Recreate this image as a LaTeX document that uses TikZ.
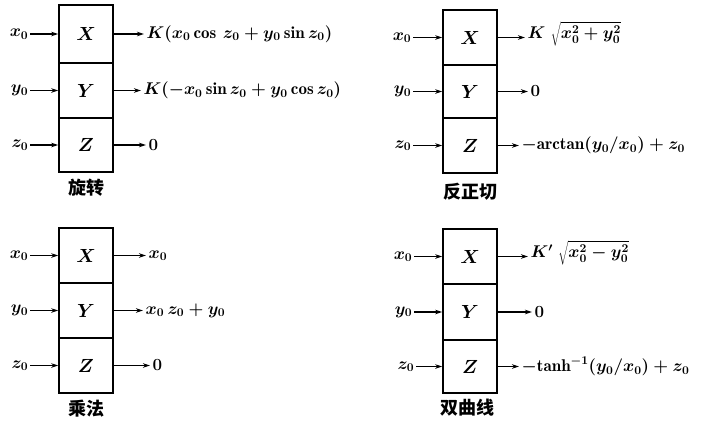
\RequirePackage{fix-cm}
\documentclass[tikz,border=0pt]{standalone}
\usepackage{fontspec}
\newfontfamily\cjk{Noto Sans CJK SC}
\usetikzlibrary{arrows.meta}
\begin{document}
\begin{tikzpicture}[x=1pt,y=-1pt,
  mfont/.style={font=\fontsize{17}{19}\selectfont\bfseries\boldmath},
  cell/.style={draw,line width=1.7pt,minimum width=54pt,inner sep=0pt,font=\fontsize{19}{21}\selectfont\bfseries\boldmath},
  inlab/.style={anchor=east,inner sep=1.5pt,mfont},
  outlab/.style={anchor=west,inner sep=2.5pt,mfont},
  captxt/.style={font=\fontsize{18}{20}\selectfont\cjk\bfseries},
  arr/.style={line width=1.3pt,-{Stealth[length=7pt,width=4.5pt]}}]
\useasboundingbox (0,0) rectangle (704,424);
% ---- top left: rotation
\node[cell,minimum height=58pt] (aX) at (86,34) {$X$};
\node[cell,minimum height=55pt] (aY) at (86,90.5) {$Y$};
\node[cell,minimum height=54pt] (aZ) at (86,145) {$Z$};
\node[inlab] (ax) at (30,34) {$x_0$};
\node[inlab] (ay) at (30,90.5) {$y_0$};
\node[inlab] (az) at (30,145) {$z_0$};
\draw[arr] (ax) -- (aX);
\draw[arr] (ay) -- (aY);
\draw[arr] (az) -- (aZ);
\node[outlab] (aox) at (144,34) {$K(x_0\cos\, z_0+y_0\sin z_0)$};
\node[outlab] (aoy) at (141,90.5) {$K(-x_0\sin z_0+y_0\cos z_0)$};
\node[outlab] (aoz) at (146,145) {$0$};
\draw[arr] (aX) -- (aox);
\draw[arr] (aY) -- (aoy);
\draw[arr] (aZ) -- (aoz);
\node[captxt] (acap) at (86,188) {旋转};
% ---- top right: arctan
\node[cell,minimum height=55pt] (bX) at (470,37.5) {$X$};
\node[cell,minimum height=53pt] (bY) at (470,91.5) {$Y$};
\node[cell,minimum height=55pt] (bZ) at (470,145.5) {$Z$};
\node[inlab] (bx) at (413,37.5) {$x_0$};
\node[inlab] (by) at (413,91.5) {$y_0$};
\node[inlab] (bz) at (413,145.5) {$z_0$};
\draw[arr] (bx) -- (bX);
\draw[arr] (by) -- (bY);
\draw[arr] (bz) -- (bZ);
\node[outlab] (box) at (525,34) {$K\;\sqrt{x_0^2+y_0^2}$};
\node[outlab] (boy) at (528,91.5) {$0$};
\node[outlab] (boz) at (519,145.5) {$-\mathrm{arctan}(y_0/x_0)+z_0$};
\draw[arr] (bX) -- (bX.east -| box.west);
\draw[arr] (bY) -- (boy);
\draw[arr] (bZ) -- (boz);
\node[captxt] (bcap) at (470,192) {反正切};
% ---- bottom left: multiplication
\node[cell,minimum height=55pt] (cX) at (86,255.5) {$X$};
\node[cell,minimum height=55pt] (cY) at (86,310.5) {$Y$};
\node[cell,minimum height=55pt] (cZ) at (86,365.5) {$Z$};
\node[inlab] (cx) at (30,255.5) {$x_0$};
\node[inlab] (cy) at (30,310.5) {$y_0$};
\node[inlab] (cz) at (30,365.5) {$z_0$};
\draw[arr] (cx) -- (cX);
\draw[arr] (cy) -- (cY);
\draw[arr] (cz) -- (cZ);
\node[outlab] (cox) at (146,255.5) {$x_0$};
\node[outlab] (coy) at (143,310.5) {$x_0\,z_0+y_0$};
\node[outlab] (coz) at (150,365.5) {$0$};
\draw[arr] (cX) -- (cox);
\draw[arr] (cY) -- (coy);
\draw[arr] (cZ) -- (coz);
\node[captxt] (ccap) at (86,409) {乘法};
% ---- bottom right: hyperbolic
\node[cell,minimum height=55pt] (dX) at (470,256.5) {$X$};
\node[cell,minimum height=56pt] (dY) at (470,312) {$Y$};
\node[cell,minimum height=53pt] (dZ) at (470,366.5) {$Z$};
\node[inlab] (dx) at (414,256.5) {$x_0$};
\node[inlab] (dy) at (414,312) {$y_0$};
\node[inlab] (dz) at (416,366.5) {$z_0$};
\draw[arr] (dx) -- (dX);
\draw[arr] (dy) -- (dY);
\draw[arr] (dz) -- (dZ);
\node[outlab] (dox) at (528,253) {$K'\;\sqrt{x_0^2-y_0^2}$};
\node[outlab] (doy) at (532,312) {$0$};
\node[outlab] (doz) at (519,366.5) {$-\mathrm{tanh}^{-1}(y_0/x_0)+z_0$};
\draw[arr] (dX) -- (dX.east -| dox.west);
\draw[arr] (dY) -- (doy);
\draw[arr] (dZ) -- (doz);
\node[captxt] (dcap) at (467,408) {双曲线};
\end{tikzpicture}
\end{document}
